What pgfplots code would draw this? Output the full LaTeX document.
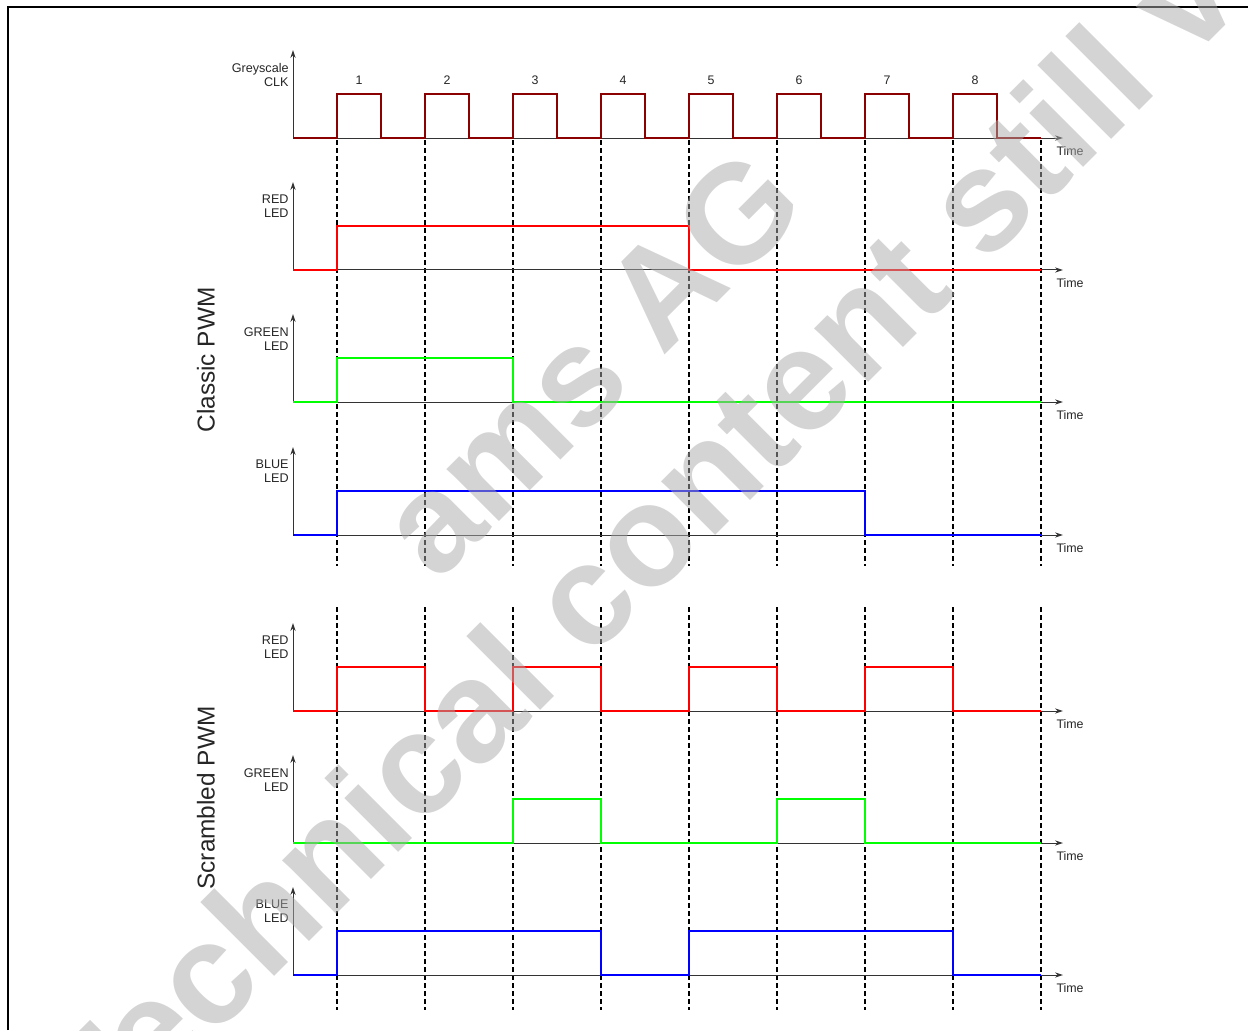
\documentclass[border=0pt]{standalone}
\usepackage{fontspec}
\setmainfont{Liberation Sans}
\usepackage{pgfplots}
\pgfplotsset{compat=1.18}
\usetikzlibrary{arrows.meta}
\definecolor{clkred}{HTML}{8B0000}
\definecolor{ledred}{HTML}{FF0000}
\definecolor{ledgreen}{HTML}{00FF00}
\definecolor{ledblue}{HTML}{0000FF}
\definecolor{wm}{HTML}{AAAAAA}
\definecolor{axgray}{HTML}{333333}
\pgfplotsset{
  sig/.style={
    scale only axis, width=385pt, height=44pt,
    xmin=-0.5, xmax=8.25, ymin=0, ymax=2,
    axis lines=left,
    axis line style={-{Stealth[length=4pt,width=2.6pt]}, axgray, line width=0.5pt},
    ticks=none, clip=false, anchor=south west,
  },
  sigline/.style={const plot, no marks, line width=1.25pt},
}
\newcommand{\lab}[1]{\node[anchor=east, align=right, font=\fontsize{6.3}{7}\selectfont, text=black!85, inner sep=0pt, xshift=-2pt] at (axis cs:-0.5,1.44) {#1};}
\newcommand{\timelab}{\node[font=\fontsize{6.2}{7}\selectfont, text=black!85, inner sep=0pt] at (axis cs:8.33,-0.3) {Time};}
\begin{document}
\begin{tikzpicture}
\useasboundingbox (0,0) rectangle (624pt,515pt);
\clip (0,0) rectangle (624pt,515pt);
% frame
\draw[line width=1pt, black] (4pt,0) -- (4pt,511.5pt) -- (624pt,511.5pt);
% side labels
\node[rotate=90, font=\fontsize{12.2}{14}\selectfont, text=black!85] at (103pt,335pt) {Classic PWM};
\node[rotate=90, font=\fontsize{12.2}{14}\selectfont, text=black!85] at (103pt,116pt) {Scrambled PWM};

% Greyscale CLK
\begin{axis}[sig, at={(146.5pt,446pt)}]
\foreach \k in {0,...,8} {
  \edef\tmp{\noexpand\draw[black, line width=0.6pt, dash pattern=on 2.5pt off 1.5pt] (axis cs:\k,-0.05) -- (axis cs:\k,-9.73);
  \noexpand\draw[black, line width=0.6pt, dash pattern=on 2.5pt off 1.5pt] (axis cs:\k,-10.66) -- (axis cs:\k,-19.82);}\tmp
}
\addplot[sigline, clkred] coordinates {(-0.5,0) (0,1) (0.5,0) (1,1) (1.5,0) (2,1) (2.5,0) (3,1) (3.5,0) (4,1) (4.5,0) (5,1) (5.5,0) (6,1) (6.5,0) (7,1) (7.5,0) (8,0)};
\foreach \n in {1,...,8} {
  \edef\tmp{\noexpand\node[font=\noexpand\fontsize{6.2}{7}\noexpand\selectfont, text=black!85] at (axis cs:\n-0.75,1.32) {\n};}\tmp
}
\lab{Greyscale\\CLK}
\timelab
\end{axis}

% Classic RED
\begin{axis}[sig, at={(146.5pt,380pt)}]
\addplot[sigline, ledred] coordinates {(-0.5,0) (0,1) (4,0) (8,0)};
\lab{RED\\LED}
\timelab
\end{axis}

% Classic GREEN
\begin{axis}[sig, at={(146.5pt,314pt)}]
\addplot[sigline, ledgreen] coordinates {(-0.5,0) (0,1) (2,0) (8,0)};
\lab{GREEN\\LED}
\timelab
\end{axis}

% Classic BLUE
\begin{axis}[sig, at={(146.5pt,247.5pt)}]
\addplot[sigline, ledblue] coordinates {(-0.5,0) (0,1) (6,0) (8,0)};
\lab{BLUE\\LED}
\timelab
\end{axis}

% Scrambled RED
\begin{axis}[sig, at={(146.5pt,159.5pt)}]
\addplot[sigline, ledred] coordinates {(-0.5,0) (0,1) (1,0) (2,1) (3,0) (4,1) (5,0) (6,1) (7,0) (8,0)};
\lab{RED\\LED}
\timelab
\end{axis}

% Scrambled GREEN
\begin{axis}[sig, at={(146.5pt,93.5pt)}]
\addplot[sigline, ledgreen] coordinates {(-0.5,0) (2,1) (3,0) (5,1) (6,0) (8,0)};
\lab{GREEN\\LED}
\timelab
\end{axis}

% Scrambled BLUE
\begin{axis}[sig, at={(146.5pt,27.5pt)}]
\addplot[sigline, ledblue] coordinates {(-0.5,0) (0,1) (3,0) (4,1) (7,0) (8,0)};
\lab{BLUE\\LED}
\timelab
\end{axis}

% watermark (semi-transparent, on top)
\node[rotate=45, text=wm, text opacity=0.5, font=\fontsize{70}{84}\bfseries\selectfont, inner sep=0pt] at (295pt,334pt) {ams AG};
\node[rotate=45, text=wm, text opacity=0.5, font=\fontsize{72}{86}\bfseries\selectfont, inner sep=0pt] at (362pt,288pt) {Technical content still valid};
\end{tikzpicture}
\end{document}
